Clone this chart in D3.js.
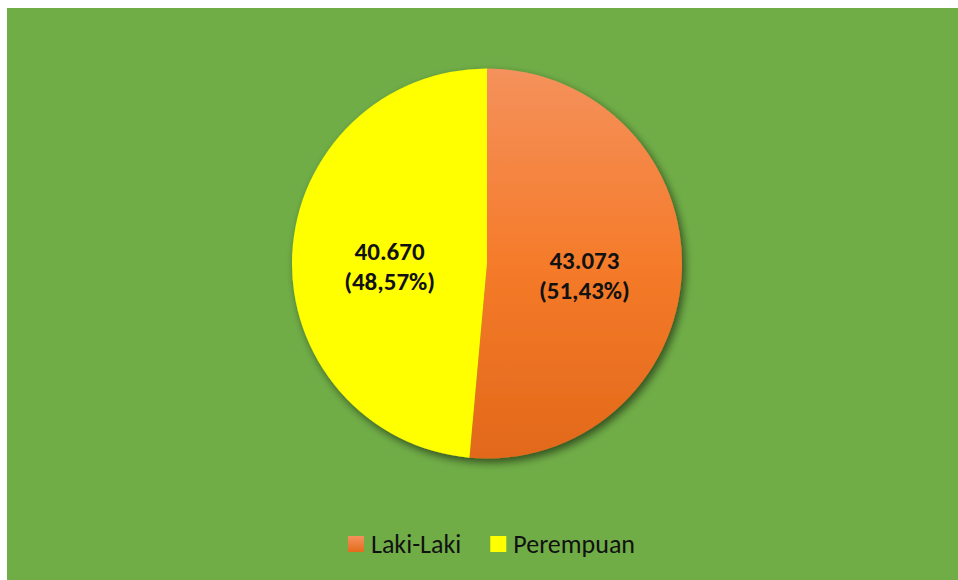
<!DOCTYPE html>
<html lang="id">
<head>
<meta charset="utf-8">
<title>Laki-Laki dan Perempuan</title>
<script src="https://cdn.jsdelivr.net/npm/d3@7"></script>
<style>
body { margin:0; background:#fff; }
.lbl { font-family: Carlito, Calibri, "Open Sans", sans-serif; font-weight:700; font-size:25px; fill:#111; }
.leg { font-family: Carlito, Calibri, "Open Sans", sans-serif; font-size:26px; fill:#111; }
</style>
</head>
<body>
<div id="chart"></div>
<script>
// data
var categories = ["Laki-Laki", "Perempuan"];
var values = [43073, 40670];
var percents = ["51,43%", "48,57%"];
var valueLabels = ["43.073", "40.670"];

(function(){
	var W = 958, H = 580;
	var cx = 487, cy = 263.5, R = 195;

	var svg = d3.select("#chart").append("svg")
		.attr("width", W).attr("height", H);

	var defs = svg.append("defs");
	// orange gradient (light at top, dark at bottom) - coords relative to pie centre
	var grad = defs.append("linearGradient").attr("id", "gOrange")
		.attr("gradientUnits", "userSpaceOnUse")
		.attr("x1", 0).attr("y1", -R).attr("x2", 0).attr("y2", R);
	grad.append("stop").attr("offset", "0%").attr("stop-color", "#F4915C");
	grad.append("stop").attr("offset", "50%").attr("stop-color", "#F57B2A");
	grad.append("stop").attr("offset", "100%").attr("stop-color", "#E2691A");

	var lgrad = defs.append("linearGradient").attr("id", "gSwatch")
		.attr("x1", 0).attr("y1", 0).attr("x2", 0).attr("y2", 1);
	lgrad.append("stop").attr("offset", "0%").attr("stop-color", "#F4915C");
	lgrad.append("stop").attr("offset", "100%").attr("stop-color", "#E46C1C");

	var f = defs.append("filter").attr("id", "shadow")
		.attr("x", "-20%").attr("y", "-20%").attr("width", "140%").attr("height", "140%");
	f.append("feDropShadow").attr("dx", 3).attr("dy", 4).attr("stdDeviation", 4)
		.attr("flood-color", "#000").attr("flood-opacity", 0.55);

	var fills = ["url(#gOrange)", "#FFFF00"];
	var swatch = ["url(#gSwatch)", "#FFFF00"];

	// background
	svg.append("rect").attr("x", 7).attr("y", 8)
		.attr("width", W - 7).attr("height", H - 8)
		.attr("fill", "#70AD47");

	var pie = d3.pie().sort(null).value(function(d){ return d; });
	var arcs = pie(values);
	var arc = d3.arc().innerRadius(0).outerRadius(R);

	var g = svg.append("g").attr("transform", "translate(" + cx + "," + cy + ")");
	g.append("g").attr("filter", "url(#shadow)")
		.selectAll("path").data(arcs).enter().append("path")
			.attr("d", arc)
			.attr("fill", function(d, i){ return fills[i]; });

	// labels near centroid
	var lab = g.selectAll("text.lbl").data(arcs).enter().append("text")
		.attr("class", "lbl")
		.attr("text-anchor", "middle")
		.attr("transform", function(d){
			var c = arc.centroid(d);
			return "translate(" + c[0] + "," + c[1] + ")";
		});
	lab.append("tspan").attr("x", 0).attr("y", 1).text(function(d, i){ return valueLabels[i]; });
	lab.append("tspan").attr("x", 0).attr("y", 31).text(function(d, i){ return "(" + percents[i] + ")"; });

	// legend
	var leg = svg.append("g");
	var x = 0;
	categories.forEach(function(c, i){
		var it = leg.append("g").attr("transform", "translate(" + x + ",0)");
		it.append("rect").attr("x", 0).attr("y", -16).attr("width", 16).attr("height", 16)
			.attr("fill", swatch[i]);
		var t = it.append("text").attr("class", "leg").attr("x", 23).attr("y", 1).text(c);
		x += 23 + t.node().getComputedTextLength() + 29;
	});
	var lw = x - 29;
	leg.attr("transform", "translate(" + (491.5 - lw / 2) + ",552)");
})();
</script>
</body>
</html>
